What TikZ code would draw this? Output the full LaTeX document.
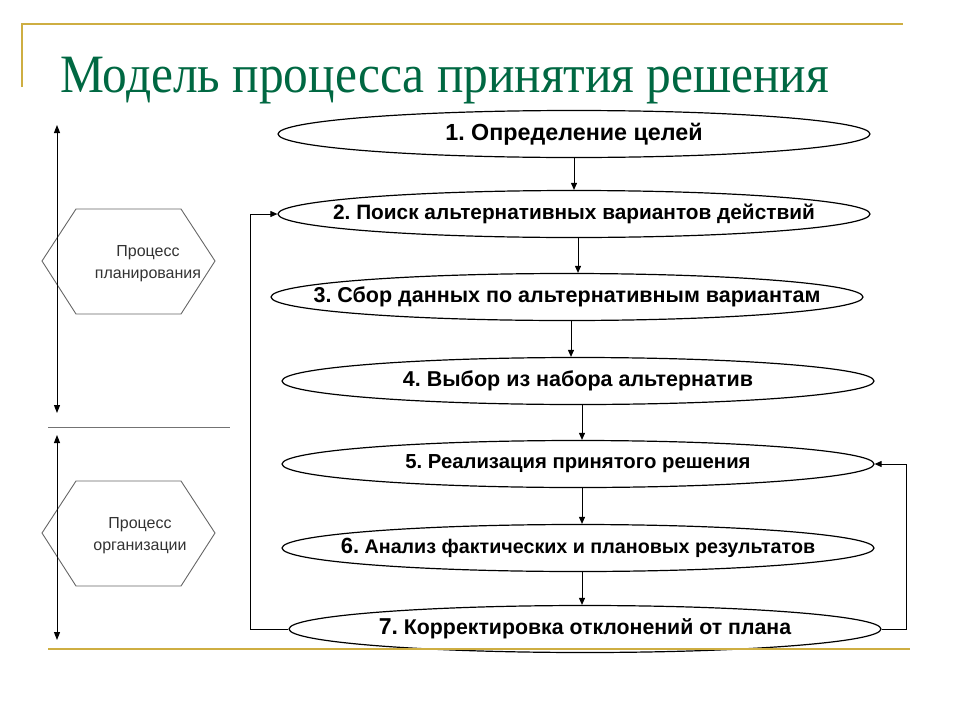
\documentclass[tikz,border=0pt]{standalone}
\usepackage{fontspec}
\setmainfont{Liberation Serif}
\setsansfont{Liberation Sans}
\usetikzlibrary{positioning,arrows.meta,shapes}
\definecolor{titlegreen}{RGB}{0,104,66}
\definecolor{rulegold}{RGB}{206,174,66}
\newcommand{\stagelabel}[1]{\makebox[0pt]{#1}}
\frenchspacing
\tikzset{
  stage/.style={
     ellipse,
     draw=black,
     line width=1.2pt,
     fill=white,
     inner sep=0pt,
     minimum width=592pt,
     minimum height=47pt},
  stage size/.style={font=\sffamily\bfseries\fontsize{#1}{24}\selectfont},
  flow/.style={-{Triangle[length=7pt,width=6pt]}, line width=0.9pt},
  span/.style={{Triangle[length=8pt,width=6pt]}-{Triangle[length=8pt,width=6pt]}, line width=1pt},
  hexa/.style={draw=black!60, line width=0.9pt},
  phase/.style={align=center, text=black!80, font=\sffamily\fontsize{16}{22}\selectfont},
  rule/.style={draw=rulegold, line width=2.5pt},
  title/.style={anchor=base west, inner sep=0pt, text=titlegreen,
     font=\fontsize{54}{60}\selectfont}
}
\begin{document}
\begin{tikzpicture}[x=1pt,y=-1pt]
  \useasboundingbox (0,0) rectangle (960,720);

  % Title
  \draw[rule] (22,87) -- (22,24) -- (903,24);
  \node[title] (T) at (60,92) {\scalebox{0.915}[1]{Модель процесса принятия решения}};

  % Stages
  \node[stage, stage size=23.3] (S1) at (574,134) {\stagelabel{1. Определение целей}};
  \node[stage, stage size=20.8] (S2) at (574,214) {\stagelabel{2. Поиск альтернативных вариантов действий}};
  \node[stage, stage size=21.5] (S3) at (567,297) {\stagelabel{3. Сбор данных по альтернативным вариантам}};
  \node[stage, stage size=21.5] (S4) at (578,381) {\stagelabel{4. Выбор из набора альтернатив}};
  \node[stage, stage size=20.3] (S5) at (578,464) {\stagelabel{5. Реализация принятого решения}};
  \node[stage, stage size=19.7] (S6) at (578,548) {\stagelabel{{\fontsize{22}{24}\selectfont 6.} Анализ фактических и плановых результатов}};
  \node[stage, stage size=21.3] (S7) at (585,629) {\stagelabel{{\fontsize{23}{24}\selectfont 7.} Корректировка отклонений от плана}};

  % Arrows
  \draw[flow] (S1.south) -- (S1.south |- S2.north);
  \foreach \a/\b in {S2/S3,S3/S4,S4/S5,S5/S6,S6/S7}
    \draw[flow] ([xshift=4pt]\a.south) -- ([xshift=4pt]\a.south |- \b.north);

  % Feedback
  \draw[flow] (S7.west) -- ++(-38,0) |- (S2.west);
  \draw[flow] (S7.east) -- ++(25,0) |- (S5.east);

  % Phases
  \draw[hexa] (42,261) -- (76,209) -- (181,209) -- (215,261) -- (181,314) -- (76,314) -- cycle;
  \node[phase] (H1) at (148,264) {Процесс\\планирования};
  \draw[hexa] (42,533) -- (76,481) -- (181,481) -- (215,533) -- (181,586) -- (76,586) -- cycle;
  \node[phase] (H2) at (140,536) {Процесс\\организации};

  \coordinate (A1) at (57,125);
  \coordinate (A2) at (57,413);
  \coordinate (B1) at (57,435);
  \coordinate (B2) at (57,640);
  \draw[span] (A1) -- (A2);
  \draw[span] (B1) -- (B2);
  \coordinate (L1) at (48,427);
  \coordinate (L2) at (230,427);
  \draw[draw=black!55, line width=1pt] (L1) -- (L2);

  \draw[rule] (48,649) -- (910,649);
\end{tikzpicture}
\end{document}
